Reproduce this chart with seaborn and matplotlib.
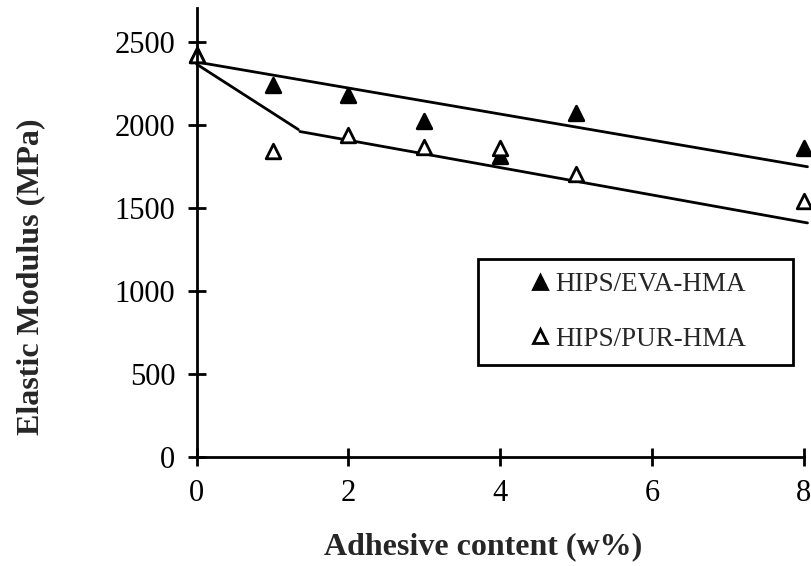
import matplotlib
matplotlib.use('Agg')
import matplotlib.pyplot as plt
import seaborn as sns
from matplotlib.lines import Line2D

# ---- data ----
adhesive = [0, 1, 2, 3, 4, 5, 8]
eva_modulus = [2420, 2242, 2178, 2022, 1812, 2070, 1862]
pur_modulus = [2420, 1843, 1940, 1864, 1860, 1704, 1540]
series_names = ['HIPS/EVA-HMA', 'HIPS/PUR-HMA']

eva_trend_x = [0.0, 8.05]
eva_trend_y = [2378, 1748]
pur_trend_x = [0.0, 1.34, 1.36, 8.05]
pur_trend_y = [2365, 1972, 1960, 1410]
pur_trend_seg = [0, 0, 1, 1]

x_ticks = [0, 2, 4, 6, 8]
y_ticks = [0, 500, 1000, 1500, 2000, 2500]
x_label = 'Adhesive content (w%)'
y_label = 'Elastic Modulus (MPa)'

sns.set_theme(style='white')
plt.rcParams['font.family'] = ['Liberation Serif', 'DejaVu Serif']

fig = plt.figure(figsize=(8.11, 5.66), dpi=100)
ax = fig.add_axes([0.2425, 0.192, 0.7485, 0.793])

# trend lines
sns.lineplot(x=eva_trend_x, y=eva_trend_y, color='black', lw=2.0,
             estimator=None, sort=False, ax=ax, legend=False, clip_on=False, zorder=2.0)
sns.lineplot(x=pur_trend_x, y=pur_trend_y, units=pur_trend_seg, color='black', lw=2.0,
             estimator=None, sort=False, ax=ax, legend=False, clip_on=False, zorder=2.0)

ms = 10.5
mew = 2.0
sns.scatterplot(x=adhesive, y=eva_modulus, marker='^', s=ms ** 2, color='black',
                edgecolor='black', linewidth=mew, ax=ax, legend=False,
                clip_on=False, zorder=2.1)
sns.scatterplot(x=adhesive, y=pur_modulus, marker='^', s=ms ** 2, color='white',
                edgecolor='black', linewidth=mew, ax=ax, legend=False,
                clip_on=False, zorder=2.2)

ax.set_xlim(0, 8)
ax.set_ylim(0, 2700)
ax.set_xticks(x_ticks)
ax.set_yticks(y_ticks)
ax.set_xticklabels([str(v) for v in x_ticks])
ax.set_yticklabels([str(v) for v in y_ticks])

for side in ['top', 'right']:
    ax.spines[side].set_visible(False)
for side in ['left', 'bottom']:
    ax.spines[side].set_linewidth(2.0)
    ax.spines[side].set_color('black')
    ax.spines[side].set_zorder(3)

ax.tick_params(axis='both', which='major', bottom=True, left=True, top=False, right=False,
               direction='inout', length=13, width=2.0, color='black',
               labelsize=22, labelcolor='black', pad=9)

ax.set_xlabel(x_label, fontsize=23, fontweight='bold', va='center')
ax.set_ylabel(y_label, fontsize=23, fontweight='bold', va='center')
ax.xaxis.set_label_coords(0.472, -0.20)
ax.yaxis.set_label_coords(-0.273, 0.402)

handles = [
    Line2D([], [], ls='none', marker='^', ms=ms, mfc='black', mec='black', mew=mew),
    Line2D([], [], ls='none', marker='^', ms=ms, mfc='white', mec='black', mew=mew),
]
leg = ax.legend(handles, series_names, loc='upper left',
                bbox_to_anchor=(0.463, 0.212, 0.519, 0.230), mode='expand',
                borderaxespad=0, fontsize=19.5, frameon=True, fancybox=False,
                shadow=False, framealpha=1, edgecolor='black',
                borderpad=0.5, labelspacing=1.08, handlelength=3.6,
                handletextpad=-1.25)
leg.get_frame().set_linewidth(2.0)
leg.set_zorder(5)

fig.savefig('out.png', dpi=100, facecolor='white')
